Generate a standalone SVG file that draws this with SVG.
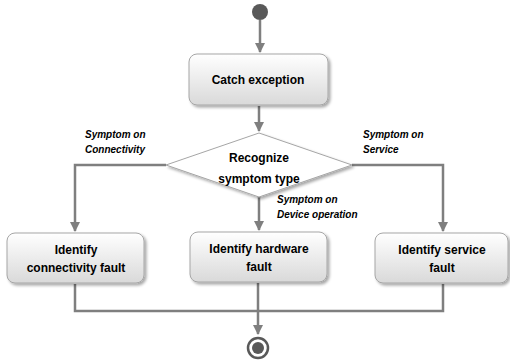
<svg xmlns="http://www.w3.org/2000/svg" width="510" height="361" viewBox="0 0 510 361">
<defs>
<linearGradient id="g" x1="0" y1="0" x2="0" y2="1">
<stop offset="0" stop-color="#ffffff"/>
<stop offset="1" stop-color="#d9d9d9"/>
</linearGradient>
<filter id="sh" x="-10%" y="-10%" width="125%" height="130%">
<feGaussianBlur in="SourceAlpha" stdDeviation="1.5"/>
<feOffset dx="1.5" dy="2" result="b"/>
<feComponentTransfer><feFuncA type="linear" slope="0.35"/></feComponentTransfer>
<feMerge><feMergeNode/><feMergeNode in="SourceGraphic"/></feMerge>
</filter>
<marker id="ar" viewBox="0 0 10 10" refX="9" refY="5" markerWidth="4" markerHeight="4" orient="auto" markerUnits="strokeWidth">
<path d="M0,0 L10,5 L0,10 z" fill="#7f7f7f"/>
</marker>
</defs>
<style>
.box{fill:url(#g);stroke:#a6a6a6;stroke-width:1;filter:url(#sh)}
.t{font-family:"Liberation Sans",Arial,sans-serif;font-weight:bold;font-size:12px;fill:#000;text-anchor:middle}
.l{font-family:"Liberation Sans",Arial,sans-serif;font-weight:bold;font-style:italic;font-size:10px;fill:#000}
.c{fill:none;stroke:#7f7f7f;stroke-width:2.5}
</style>
<g id="connectors">
<path class="c" d="M260,20 V52" marker-end="url(#ar)"/>
<path class="c" d="M259,106 V131" marker-end="url(#ar)"/>
<path class="c" d="M166,165 H75 V231" marker-end="url(#ar)"/>
<path class="c" d="M352,165 H443 V231" marker-end="url(#ar)"/>
<path class="c" d="M259,197 V230" marker-end="url(#ar)"/>
<path class="c" d="M75,284 V311 H443 V284"/>
<path class="c" d="M258,283 V334" marker-end="url(#ar)"/>
</g>
<g id="start"><circle cx="260" cy="12" r="8" fill="#595959"/></g>
<g id="catch">
<rect class="box" x="189" y="54" width="139" height="51" rx="8"/>
<text class="t" x="258" y="84">Catch exception</text>
</g>
<g id="decision">
<polygon points="259,133 352,165 259,197 166,165" fill="#ffffff" stroke="#a6a6a6" stroke-width="1" filter="url(#sh)"/>
<text class="t" x="259" y="162">Recognize</text>
<text class="t" x="259" y="183">symptom type</text>
</g>
<g id="labels">
<text class="l" x="85" y="138">Symptom on</text>
<text class="l" x="85" y="153">Connectivity</text>
<text class="l" x="363" y="138">Symptom on</text>
<text class="l" x="363" y="153">Service</text>
<text class="l" x="277" y="203">Symptom on</text>
<text class="l" x="277" y="218">Device operation</text>
</g>
<g id="conn-fault">
<rect class="box" x="7" y="233" width="137" height="50" rx="8"/>
<text class="t" x="76" y="254">Identify</text>
<text class="t" x="76" y="272">connectivity fault</text>
</g>
<g id="hw-fault">
<rect class="box" x="190" y="232" width="137" height="50" rx="8"/>
<text class="t" x="259" y="253">Identify hardware</text>
<text class="t" x="259" y="271">fault</text>
</g>
<g id="svc-fault">
<rect class="box" x="375" y="233" width="133" height="50" rx="8"/>
<text class="t" x="442" y="254">Identify service</text>
<text class="t" x="442" y="272">fault</text>
</g>
<g id="end">
<circle cx="258" cy="348" r="10" fill="#ffffff" stroke="#595959" stroke-width="2.5"/>
<circle cx="258" cy="348" r="6" fill="#595959"/>
</g>
</svg>
